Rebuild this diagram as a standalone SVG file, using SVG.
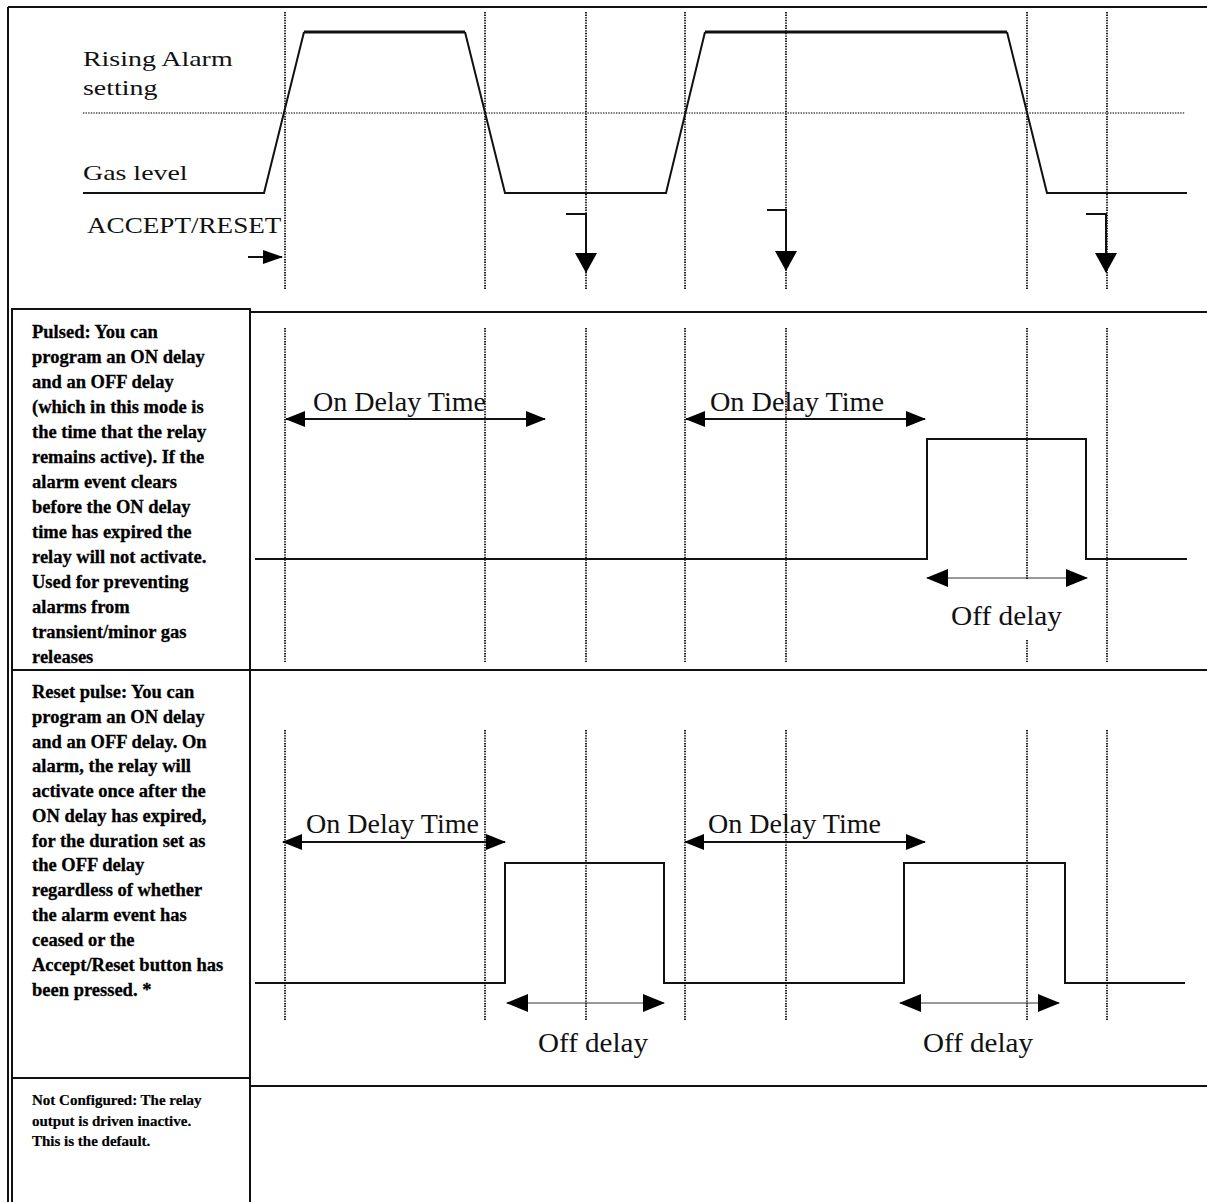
<svg xmlns="http://www.w3.org/2000/svg" width="1207" height="1202" viewBox="0 0 1207 1202">
<style>
.bd{stroke:#111;stroke-width:2;fill:none}
.dot{stroke:#222;stroke-width:2;stroke-dasharray:1.4,1.2;fill:none}
.hdot{stroke:#777;stroke-width:2;stroke-dasharray:1.4,1.2;fill:none}
.sig{stroke:#111;stroke-width:2;fill:none}
.sigt{stroke:#111;stroke-width:3;fill:none}
.arr{stroke:#111;stroke-width:2;fill:none}
.arrt{stroke:#333;stroke-width:1;fill:none}
.lbl{font-family:"Liberation Serif","Times New Roman",serif;fill:#111}
.desc{font-family:"Liberation Serif","Times New Roman",serif;font-weight:bold;font-size:18.5px;fill:#000;stroke:#000;stroke-width:0.3}
.desc2{font-family:"Liberation Serif","Times New Roman",serif;font-weight:bold;font-size:15px;fill:#000;stroke:#000;stroke-width:0.2}
</style>
<defs>
<marker id="ah" viewBox="0 0 20 16" refX="19" refY="8" markerWidth="20" markerHeight="16" markerUnits="userSpaceOnUse" orient="auto-start-reverse"><path d="M0,0 L20,8 L0,16 Z" fill="#000"/></marker>
<marker id="ahs" viewBox="0 0 20 14" refX="19" refY="7" markerWidth="20" markerHeight="14" markerUnits="userSpaceOnUse" orient="auto"><path d="M0,0 L20,7 L0,14 Z" fill="#000"/></marker>
<marker id="ahd" viewBox="0 0 20 22" refX="19" refY="11" markerWidth="20" markerHeight="22" markerUnits="userSpaceOnUse" orient="auto"><path d="M0,0 L20,11 L0,22 Z" fill="#000"/></marker>
<marker id="aho" viewBox="0 0 22 18" refX="21" refY="9" markerWidth="22" markerHeight="18" markerUnits="userSpaceOnUse" orient="auto-start-reverse"><path d="M0,0 L22,9 L0,18 Z" fill="#000"/></marker>
</defs>
<rect x="0" y="0" width="1207" height="1202" fill="#fff"/>

<g id="frame">
<line class="bd" x1="8" y1="7" x2="1207" y2="7"/>
<line class="bd" x1="8" y1="7" x2="8" y2="1202"/>
<line class="bd" x1="250" y1="312" x2="1207" y2="312"/>
<line class="bd" x1="250" y1="670" x2="1207" y2="670"/>
<line class="bd" x1="250" y1="1086" x2="1207" y2="1086"/>
</g>

<g id="gridlines">
<g id="grid-top">
<line class="hdot" x1="83" y1="113" x2="1185" y2="113"/>
<path class="dot" d="M285,12V290M485,12V290M586,12V290M685,12V290M786,12V290M1027,12V290M1107,12V290"/>
</g>
<g id="grid-pulsed">
<path class="dot" d="M285,328V662M485,328V662M586,328V662M685,328V662M786,328V662M1027,328V580M1027,640V662M1107,328V662"/>
</g>
<g id="grid-reset">
<path class="dot" d="M285,730V1020M485,730V1020M586,730V1020M685,730V1020M786,730V1020M1027,730V1020M1107,730V1020"/>
</g>
</g>

<g id="gas-section">
<text class="lbl" font-size="21" transform="translate(83,66) scale(1.33,1)">Rising Alarm</text>
<text class="lbl" font-size="21" transform="translate(83,95) scale(1.33,1)">setting</text>
<text class="lbl" font-size="21" transform="translate(83,180) scale(1.33,1)">Gas level</text>
<text class="lbl" font-size="23" transform="translate(87,233) scale(1.18,1)">ACCEPT/RESET</text>
<path class="sig" d="M83,193 H264 L304,32 M465,32 L505,193 H666 L705,32 M1007,32 L1047,193 H1187"/>
<path class="sigt" d="M304,32 H465 M705,32 H1007"/>
</g>

<g id="connectors">
<line class="arr" x1="248" y1="257" x2="282" y2="257" marker-end="url(#ahs)"/>
<path class="arr" d="M566,214 H586 V272" marker-end="url(#ahd)"/>
<path class="arr" d="M767,210 H786 V270" marker-end="url(#ahd)"/>
<path class="arr" d="M1086,214 H1106 V272" marker-end="url(#ahd)"/>
<line class="arr" x1="286" y1="419" x2="545" y2="419" marker-start="url(#ah)" marker-end="url(#ah)"/>
<line class="arr" x1="686" y1="419" x2="925" y2="419" marker-start="url(#ah)" marker-end="url(#ah)"/>
<line class="arrt" x1="927" y1="578" x2="1087" y2="578" marker-start="url(#aho)" marker-end="url(#aho)"/>
<line class="arr" x1="283" y1="842" x2="505" y2="842" marker-start="url(#ah)" marker-end="url(#ah)"/>
<line class="arr" x1="685" y1="842" x2="925" y2="842" marker-start="url(#ah)" marker-end="url(#ah)"/>
<line class="arrt" x1="507" y1="1003" x2="664" y2="1003" marker-start="url(#aho)" marker-end="url(#aho)"/>
<line class="arrt" x1="900" y1="1003" x2="1059" y2="1003" marker-start="url(#aho)" marker-end="url(#aho)"/>
</g>

<g id="pulsed-node">
<rect class="bd" x="12" y="309" width="238" height="361"/>
<text class="desc">
<tspan x="32" y="338">Pulsed: You can</tspan>
<tspan x="32" y="363">program an ON delay</tspan>
<tspan x="32" y="388">and an OFF delay</tspan>
<tspan x="32" y="413">(which in this mode is</tspan>
<tspan x="32" y="438">the time that the relay</tspan>
<tspan x="32" y="463">remains active). If the</tspan>
<tspan x="32" y="488">alarm event clears</tspan>
<tspan x="32" y="513">before the ON delay</tspan>
<tspan x="32" y="538">time has expired the</tspan>
<tspan x="32" y="563">relay will not activate.</tspan>
<tspan x="32" y="588">Used for preventing</tspan>
<tspan x="32" y="613">alarms from</tspan>
<tspan x="32" y="638">transient/minor gas</tspan>
<tspan x="32" y="663">releases</tspan>
</text>
</g>

<g id="pulsed-chart">
<path class="sig" d="M255,559 H927 V439 H1086 V559 H1187"/>
<text class="lbl" x="313" y="411" font-size="27" textLength="173" lengthAdjust="spacingAndGlyphs">On Delay Time</text>
<text class="lbl" x="710" y="411" font-size="27" textLength="174" lengthAdjust="spacingAndGlyphs">On Delay Time</text>
<text class="lbl" x="951" y="625" font-size="28" textLength="111" lengthAdjust="spacingAndGlyphs">Off delay</text>
</g>

<g id="reset-node">
<rect class="bd" x="12" y="670" width="238" height="408"/>
<text class="desc">
<tspan x="32" y="698">Reset pulse: You can</tspan>
<tspan x="32" y="723">program an ON delay</tspan>
<tspan x="32" y="748">and an OFF delay. On</tspan>
<tspan x="32" y="772">alarm, the relay will</tspan>
<tspan x="32" y="797">activate once after the</tspan>
<tspan x="32" y="822">ON delay has expired,</tspan>
<tspan x="32" y="847">for the duration set as</tspan>
<tspan x="32" y="871">the OFF delay</tspan>
<tspan x="32" y="896">regardless of whether</tspan>
<tspan x="32" y="921">the alarm event has</tspan>
<tspan x="32" y="946">ceased or the</tspan>
<tspan x="32" y="971">Accept/Reset button has</tspan>
<tspan x="32" y="996">been pressed. *</tspan>
</text>
</g>

<g id="reset-chart">
<path class="sig" d="M255,983 H505 V863 H664 V983 H904 V863 H1065 V983 H1185"/>
<text class="lbl" x="306" y="833" font-size="27" textLength="173" lengthAdjust="spacingAndGlyphs">On Delay Time</text>
<text class="lbl" x="708" y="833" font-size="27" textLength="173" lengthAdjust="spacingAndGlyphs">On Delay Time</text>
<text class="lbl" x="538" y="1052" font-size="28" textLength="110" lengthAdjust="spacingAndGlyphs">Off delay</text>
<text class="lbl" x="923" y="1052" font-size="28" textLength="110" lengthAdjust="spacingAndGlyphs">Off delay</text>
</g>

<g id="not-configured-node">
<path class="bd" d="M12,1202 V1078 H250 V1202"/>
<text class="desc2">
<tspan x="32" y="1105">Not Configured: The relay</tspan>
<tspan x="32" y="1126">output is driven inactive.</tspan>
<tspan x="32" y="1146">This is the default.</tspan>
</text>
</g>
</svg>
